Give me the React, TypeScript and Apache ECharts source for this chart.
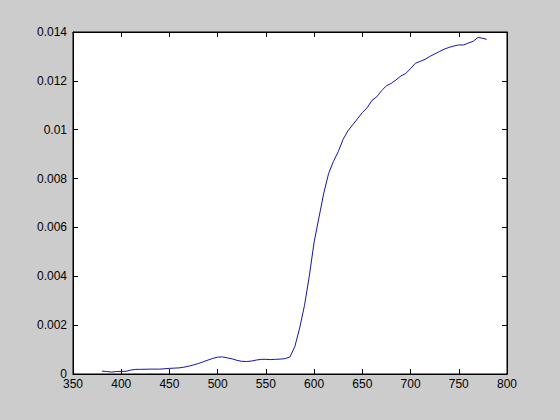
import React, { useEffect, useRef } from "react";
import * as echarts from "echarts";

const wavelengths = [380, 385, 390, 395, 400, 405, 410, 415, 420, 430, 440, 450, 455, 460, 465, 470, 475, 480, 485, 490, 495, 500, 505, 510, 515, 520, 525, 530, 535, 540, 545, 550, 555, 560, 565, 570, 575, 580, 585, 590, 595, 600, 605, 610, 615, 620, 625, 630, 635, 640, 645, 650, 655, 660, 665, 670, 675, 680, 685, 690, 695, 700, 705, 710, 715, 720, 725, 730, 735, 740, 745, 750, 755, 760, 765, 770, 775, 779];
const values = [0.00012, 0.0001, 0.00008, 0.0001, 0.00011, 0.00011, 0.00016, 0.00019, 0.00019, 0.0002, 0.0002, 0.00023, 0.00024, 0.00025, 0.00028, 0.00032, 0.00037, 0.00043, 0.0005, 0.00057, 0.00064, 0.00069, 0.0007, 0.00066, 0.00062, 0.00056, 0.00052, 0.00051, 0.00053, 0.00057, 0.0006, 0.0006, 0.00059, 0.0006, 0.00061, 0.00063, 0.0007, 0.00112, 0.00188, 0.0028, 0.004, 0.0054, 0.0064, 0.0074, 0.0082, 0.0087, 0.0091, 0.0096, 0.00995, 0.0102, 0.01045, 0.0107, 0.0109, 0.0112, 0.01135, 0.0116, 0.0118, 0.0119, 0.01204, 0.0122, 0.0123, 0.0125, 0.01272, 0.0128, 0.01288, 0.013, 0.0131, 0.0132, 0.0133, 0.01337, 0.01343, 0.01347, 0.01347, 0.01355, 0.01362, 0.01378, 0.01374, 0.0137];

const xMin = 350, xMax = 800, xStep = 50;
const yMin = 0, yMax = 0.014, yStep = 0.002;

export default function App() {
  const ref = useRef<HTMLDivElement>(null);
  useEffect(() => {
    if (!ref.current) return;
    const chart = echarts.init(ref.current, undefined, { renderer: "svg" });
    const font = { color: "#000", fontSize: 12, fontFamily: "Liberation Sans, Arial, sans-serif" };
    const line = { show: true, onZero: false, lineStyle: { color: "#000", width: 1 } };
    const tick = { show: true, inside: true, length: 5, lineStyle: { color: "#000", width: 1 } };
    chart.setOption({
      animation: false,
      backgroundColor: "#cccccc",
      grid: {
        left: 73, right: 53, top: 32, bottom: 46,
        show: true, backgroundColor: "#ffffff", borderColor: "#000", borderWidth: 1,
      },
      xAxis: [
        {
          type: "value", min: xMin, max: xMax, interval: xStep, position: "bottom",
          axisLine: line, axisTick: tick, splitLine: { show: false },
          axisLabel: { ...font, margin: 4 },
        },
        {
          type: "value", min: xMin, max: xMax, interval: xStep, position: "top",
          axisLine: line, axisTick: tick, splitLine: { show: false },
          axisLabel: { show: false },
        },
      ],
      yAxis: [
        {
          type: "value", min: yMin, max: yMax, interval: yStep, position: "left",
          axisLine: line, axisTick: tick, splitLine: { show: false },
          axisLabel: { ...font, margin: 6 },
        },
        {
          type: "value", min: yMin, max: yMax, interval: yStep, position: "right",
          axisLine: line, axisTick: tick, splitLine: { show: false },
          axisLabel: { show: false },
        },
      ],
      series: [
        {
          type: "line",
          data: wavelengths.map((w, i) => [w, values[i]]),
          showSymbol: false,
          smooth: false,
          lineStyle: { color: "#1414a8", width: 1 },
          xAxisIndex: 0,
          yAxisIndex: 0,
        },
      ],
    });
    return () => chart.dispose();
  }, []);
  return (
    <div
      ref={ref}
      style={{ position: "fixed", left: 0, top: 0, width: 560, height: 420 }}
    />
  );
}
